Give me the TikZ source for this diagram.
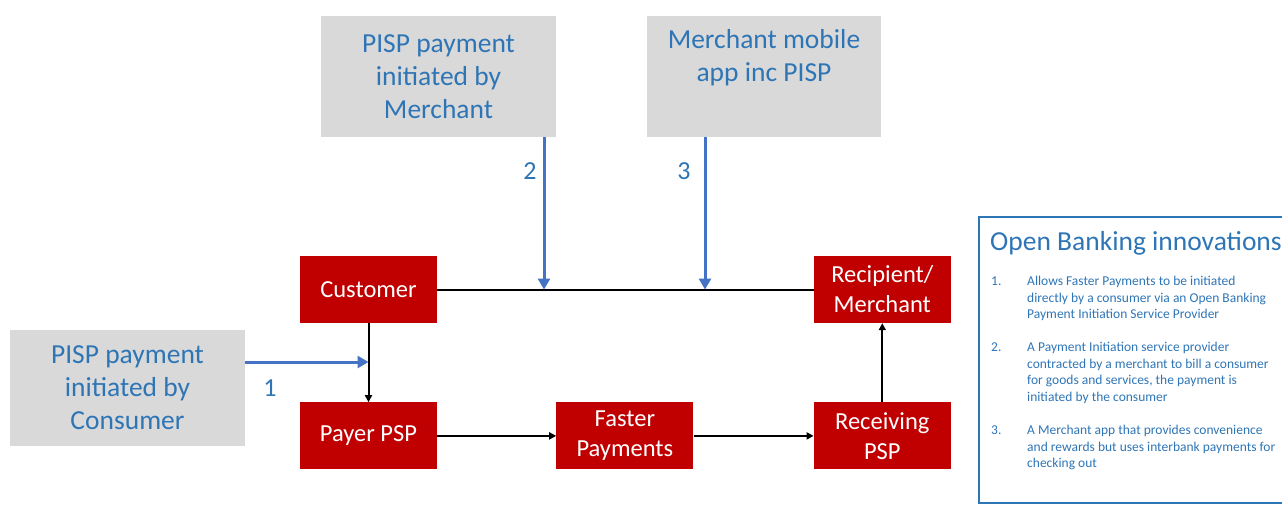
\documentclass[tikz,border=0pt]{standalone}
\usepackage{fontspec}
\setmainfont{Carlito}
\usetikzlibrary{arrows.meta,positioning,calc}
\definecolor{cParty}{HTML}{C00000}
\definecolor{cPisp}{HTML}{D9D9D9}
\definecolor{cInk}{HTML}{2E75B6}
\definecolor{cInit}{HTML}{4472C4}
\definecolor{cPanel}{HTML}{2E75B6}

\begin{document}
\begin{tikzpicture}[
  x=1pt, y=-1pt,
  party/.style={fill=cParty, text=white, align=center, inner sep=0pt,
              minimum width=137pt, minimum height=67pt,
              font=\fontsize{24.5}{30}\selectfont},
  pisp/.style={fill=cPisp, text=cInk, align=center, inner sep=0pt,
              minimum width=235pt, minimum height=121pt,
              font=\fontsize{27.5}{33}\selectfont},
  flow/.style={-{Triangle[length=7pt,width=7pt]}, line width=2pt},
  init/.style={-{Triangle[length=11pt,width=12pt]}, line width=3pt, draw=cInit},
  tag/.style={text=cInk, inner sep=0pt, font=\fontsize{26}{30}\selectfont},
  note/.style={text=cInk, align=left, inner sep=0pt, anchor=north west,
              font=\fontsize{13.5}{16.5}\selectfont},
]
\useasboundingbox (0,0) rectangle (1282,504);
\clip (0,0) rectangle (1282,504);

% ---- payment chain ----
\node[party] at (368.5,289.5) (cust) {Customer};
\node[party, below=79pt of cust] (payer) {Payer PSP};
\node[party, right=119pt of payer] (fps) {Faster\\ Payments};
\node[party, right=120pt of fps] (recv) {Receiving\\ PSP};
\node[party, above=79pt of recv] (recip) {Recipient/\\ Merchant};

\draw[line width=2pt] (cust) -- (recip);
\draw[flow] (cust) -- (payer);
\draw[flow] (payer) -- (fps);
\draw[flow] (fps) -- (recv);
\draw[flow] (recv) -- (recip);

% ---- initiation routes ----
\node[pisp] at (438.5,76.5) (pispM) {PISP payment\\ initiated by\\ Merchant};
\node[pisp, minimum width=234pt] at (764,76.5) (mapp) {Merchant mobile\\ app inc PISP\\ \strut};
\node[pisp, minimum height=116pt] at (127.5,388) (pispC) {PISP payment\\ initiated by\\ Consumer};

\coordinate (t1) at ([yshift=26pt]pispC.east);
\coordinate (t2) at ([xshift=105.5pt]pispM.south);
\coordinate (t3) at ([xshift=-59pt]mapp.south);

\draw[init] (t1) -- (t1 -| cust.south);
\draw[init] (t2) -- (t2 |- cust.east);
\draw[init] (t3) -- (t3 |- cust.east);

\node[tag] at (270,388) (n1) {1};
\node[tag] at (530,171) (n2) {2};
\node[tag] at (684,171) (n3) {3};

% ---- side panel ----
\node[draw=cPanel, line width=2pt, anchor=north west, minimum width=340pt,
      minimum height=286pt, inner sep=0pt] at (978,216) (panel) {};
\node[text=cInk, anchor=base west, inner sep=0pt,
      font=\fontsize{27.5}{33}\selectfont] at (990,250) (title) {Open Banking innovations};

\node[note] at (991,274) (k1) {\strut 1.};
\node[note] at (1027,274) (i1) {\strut Allows Faster Payments to be initiated\\
  directly by a consumer via an Open Banking\\ Payment Initiation Service Provider};
\node[note] at (991,340) (k2) {\strut 2.};
\node[note] at (1027,340) (i2) {\strut A Payment Initiation service provider\\
  contracted by a merchant to bill a consumer\\ for goods and services, the payment is\\
  initiated by the consumer};
\node[note] at (991,423) (k3) {\strut 3.};
\node[note] at (1027,423) (i3) {\strut A Merchant app that provides convenience\\
  and rewards but uses interbank payments for\\ checking out};
\end{tikzpicture}
\end{document}
